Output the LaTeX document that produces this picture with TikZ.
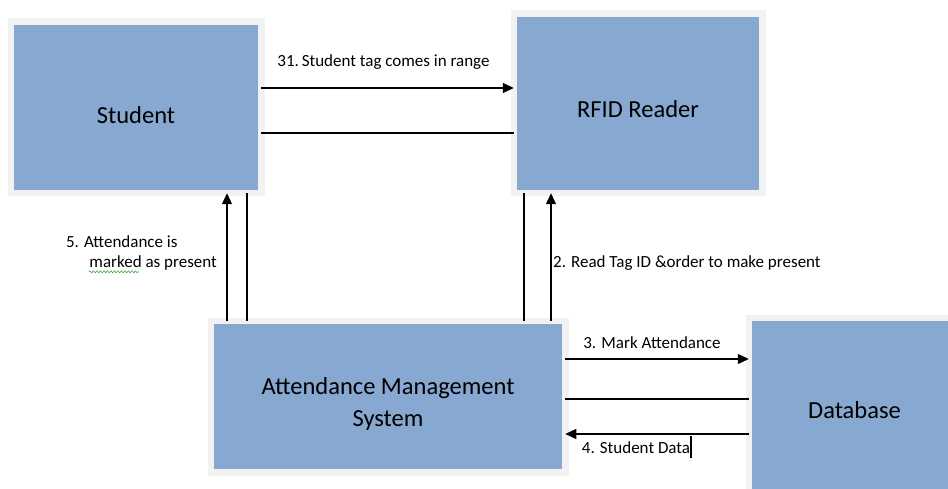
\documentclass[tikz,border=0pt]{standalone}
\usepackage{fontspec}
\setmainfont{Carlito}
\usepackage{xcolor}
\usetikzlibrary{arrows.meta, positioning, decorations.pathmorphing}

\definecolor{boxfill}{RGB}{135,168,208}
\definecolor{boxedge}{RGB}{242,242,242}
\definecolor{spellgreen}{RGB}{60,170,60}

\begin{document}
\begin{tikzpicture}[
    x=1pt, y=-1pt,
    box/.style={draw=boxedge, fill=boxfill, line width=6.5pt, outer sep=0pt},
    boxtext/.style={align=center, font=\fontsize{24.5}{32}\selectfont},
    lbl/.style={inner sep=1.5pt, font=\fontsize{17}{20}\selectfont},
    arr/.style={line width=1.3pt, -{Triangle[length=11pt, width=10pt]}},
    plain/.style={line width=1.3pt}
]
\useasboundingbox (0,0) rectangle (948,489);
\clip (0,0) rectangle (948,489);

\node[box, minimum width=250.5pt, minimum height=171.5pt,
      label={[boxtext, yshift=-8pt]center:Student}] (student) at (136,107.5) {};
\node[box, minimum width=248.5pt, minimum height=179.5pt,
      label={[boxtext, yshift=-5.5pt]center:RFID Reader}] (rfid) at (638,103.5) {};
\node[box, minimum width=354.5pt, minimum height=151.5pt,
      label={[boxtext, yshift=-7pt]center:Attendance Management\\System}] (ams) at (388,396.5) {};
\node[box, minimum width=211.5pt, minimum height=182pt,
      label={[boxtext, yshift=-1pt]center:Database}] (db) at (854.5,409) {};

\draw[arr]   ([yshift=19.5pt]student.east) -- ([yshift=19.5pt]student.east -| rfid.west)
    node[lbl, midway, above=16pt, xshift=-4pt] (l1) {31.\,Student tag comes in range};
\draw[plain] ([yshift=-25.5pt]student.east) -- ([yshift=-25.5pt]student.east -| rfid.west);

\draw[arr]   ([xshift=91pt]student.south |- ams.north) -- ([xshift=91pt]student.south)
    node[lbl, pos=.45, left=8pt] (l5b) {marked as present};
\draw[plain] ([xshift=111pt]student.south |- ams.north) -- ([xshift=111pt]student.south);
\node[lbl, anchor=south west] (l5a) at ([xshift=-23pt, yshift=5pt]l5b.north west) {5. Attendance is};
\draw[spellgreen, line width=0.6pt, decorate, decoration={snake, segment length=3.5pt, amplitude=1pt}]
    ([xshift=1.5pt, yshift=1pt]l5b.south west) -- ++(50,0);

\draw[plain] ([xshift=-114pt]rfid.south |- ams.north) -- ([xshift=-114pt]rfid.south);
\draw[arr]   ([xshift=-87pt]rfid.south |- ams.north) -- ([xshift=-87pt]rfid.south)
    node[lbl, pos=.45, right=0pt] (l2) {2. Read Tag ID \&order to make present};

\draw[arr]   ([yshift=37.5pt]ams.east) -- ([yshift=37.5pt]ams.east -| db.west)
    node[lbl, midway, above=8pt, xshift=-5pt] (l3) {3. Mark Attendance};
\draw[plain] ([yshift=-2.5pt]ams.east) -- ([yshift=-2.5pt]ams.east -| db.west);
\draw[arr]   ([yshift=-37.5pt]ams.east -| db.west) -- ([yshift=-37.5pt]ams.east)
    node[lbl, midway, below=0pt, xshift=-20pt] (l4) {4. Student Data\rule[-5pt]{2pt}{22pt}};
\end{tikzpicture}
\end{document}
